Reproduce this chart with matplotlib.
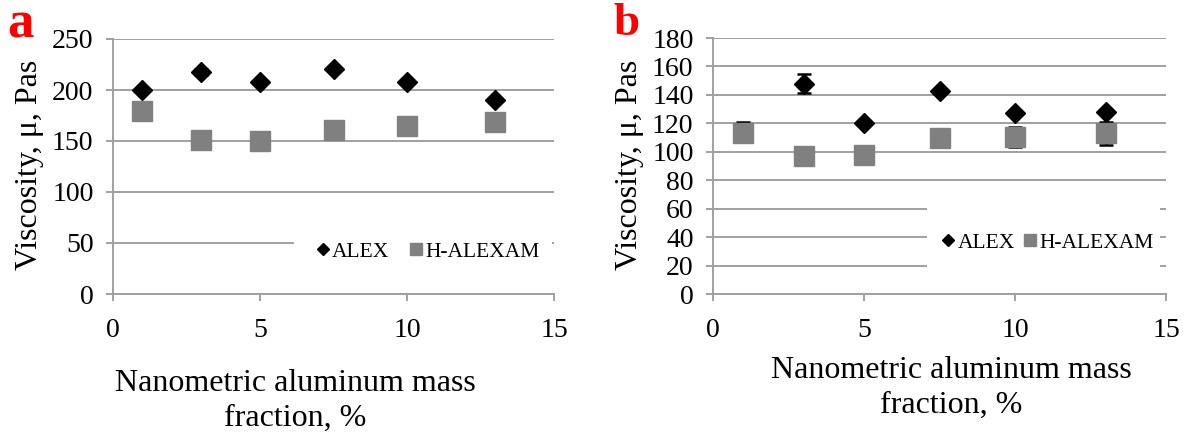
import matplotlib
matplotlib.use("Agg")
import matplotlib.pyplot as plt
from matplotlib.patches import Rectangle

plt.rcParams['font.family'] = ['Liberation Serif', 'DejaVu Serif']

# nanometric aluminum mass fraction, %
fraction = [1, 3, 5, 7.5, 10, 13]

# (a) viscosity, Pa*s
alex_a = [200, 217.5, 208, 220.5, 208, 190]
hal_a = [179.5, 150.5, 150, 161, 164.5, 169]
alex_a_err = [0, 3, 0, 0, 0, 0]
hal_a_err = [0, 0, 0, 0, 0, 0]

# (b) viscosity, Pa*s
alex_b = [114, 148, 120, 143, 127, 128]
hal_b = [113, 97, 97.5, 109.5, 110.5, 113]
alex_b_err = [7, 7, 0, 0, 0, 0]
hal_b_err = [0, 0, 0, 0, 7, 8]

grid_col = '#a0a0a0'
W, H = 1186, 434

fig = plt.figure(figsize=(W / 100, H / 100), dpi=100)


def px_axes(x0, x1, y_top, y_bot):
    return fig.add_axes([x0 / W, 1 - y_bot / H, (x1 - x0) / W, (y_bot - y_top) / H])


def setup(ax, ymax, ystep, leg_box, leg_center, colsp):
    ax.set_xlim(0, 15)
    ax.set_ylim(0, ymax)
    ax.set_xticks([0, 5, 10, 15])
    ax.set_yticks(range(0, ymax + 1, ystep))
    ax.grid(axis='y', color=grid_col, lw=1.4, zorder=1)
    ax.set_axisbelow(True)
    for s in ['top', 'right']:
        ax.spines[s].set_visible(False)
    for s in ['left', 'bottom']:
        ax.spines[s].set_color(grid_col)
        ax.spines[s].set_linewidth(1.4)
    ax.tick_params(axis='y', direction='out', length=5, width=1.4, color=grid_col,
                   labelsize=20, pad=9)
    ax.tick_params(axis='x', direction='out', length=5, width=1.4, color=grid_col,
                   labelsize=20, pad=12)
    # white legend background that hides the lower gridlines
    ax.add_patch(Rectangle(leg_box[:2], leg_box[2], leg_box[3], transform=ax.transAxes,
                           facecolor='white', edgecolor='none', zorder=1.5,
                           clip_on=False))
    leg = ax.legend(loc='center', bbox_to_anchor=leg_center, ncol=2, frameon=False,
                    fontsize=15.5, handlelength=0.55, handletextpad=0.15,
                    columnspacing=colsp, borderaxespad=0)
    leg.legend_handles[0].set_markersize(6.5)
    leg.legend_handles[1].set_markersize(8)


def draw(ax, alex, alex_err, hal, hal_err):
    ax.errorbar(fraction, alex, yerr=alex_err, fmt='none', ecolor='black',
                elinewidth=1.8, capsize=5, capthick=1.8, zorder=2)
    ax.errorbar(fraction, hal, yerr=hal_err, fmt='none', ecolor='black',
                elinewidth=1.8, capsize=5, capthick=1.8, zorder=2)
    ax.plot(fraction, alex, ls='none', marker='D', ms=10.5, color='black',
            label='ALEX', zorder=3)
    ax.plot(fraction, hal, ls='none', marker='s', ms=14.5, color='#808080',
            mec='#808080', label='H-ALEXAM', zorder=4)


ax_a = px_axes(113, 554, 39, 294)
draw(ax_a, alex_a, alex_a_err, hal_a, hal_a_err)
setup(ax_a, 250, 50, (0.41, 0.03, 0.585, 0.27), (0.715, 0.165), 1.0)

ax_b = px_axes(713, 1166, 38, 294)
draw(ax_b, alex_b, alex_b_err, hal_b, hal_b_err)
setup(ax_b, 180, 20, (0.472, 0.03, 0.515, 0.38), (0.74, 0.2), 0.45)

# axis titles
fig.text(30 / W, 1 - 165 / H, 'Viscosity, \u03bc, Pas', rotation=90,
         ha='center', va='center', fontsize=23)
fig.text(630 / W, 1 - 165 / H, 'Viscosity, \u03bc, Pas', rotation=90,
         ha='center', va='center', fontsize=23)
fig.text(295 / W, 1 - 401 / H, 'Nanometric aluminum mass\nfraction, %',
         ha='center', va='center', fontsize=23, linespacing=1.3)
fig.text(951 / W, 1 - 388 / H, 'Nanometric aluminum mass\nfraction, %',
         ha='center', va='center', fontsize=23, linespacing=1.3)

# panel letters
fig.text(7 / W, 1 - 38 / H, 'a', color='red', fontweight='bold', fontsize=38,
         ha='left', va='baseline')
fig.text(613 / W, 1 - 35 / H, 'b', color='red', fontweight='bold', fontsize=34,
         ha='left', va='baseline')

fig.savefig('out.png', dpi=100)
